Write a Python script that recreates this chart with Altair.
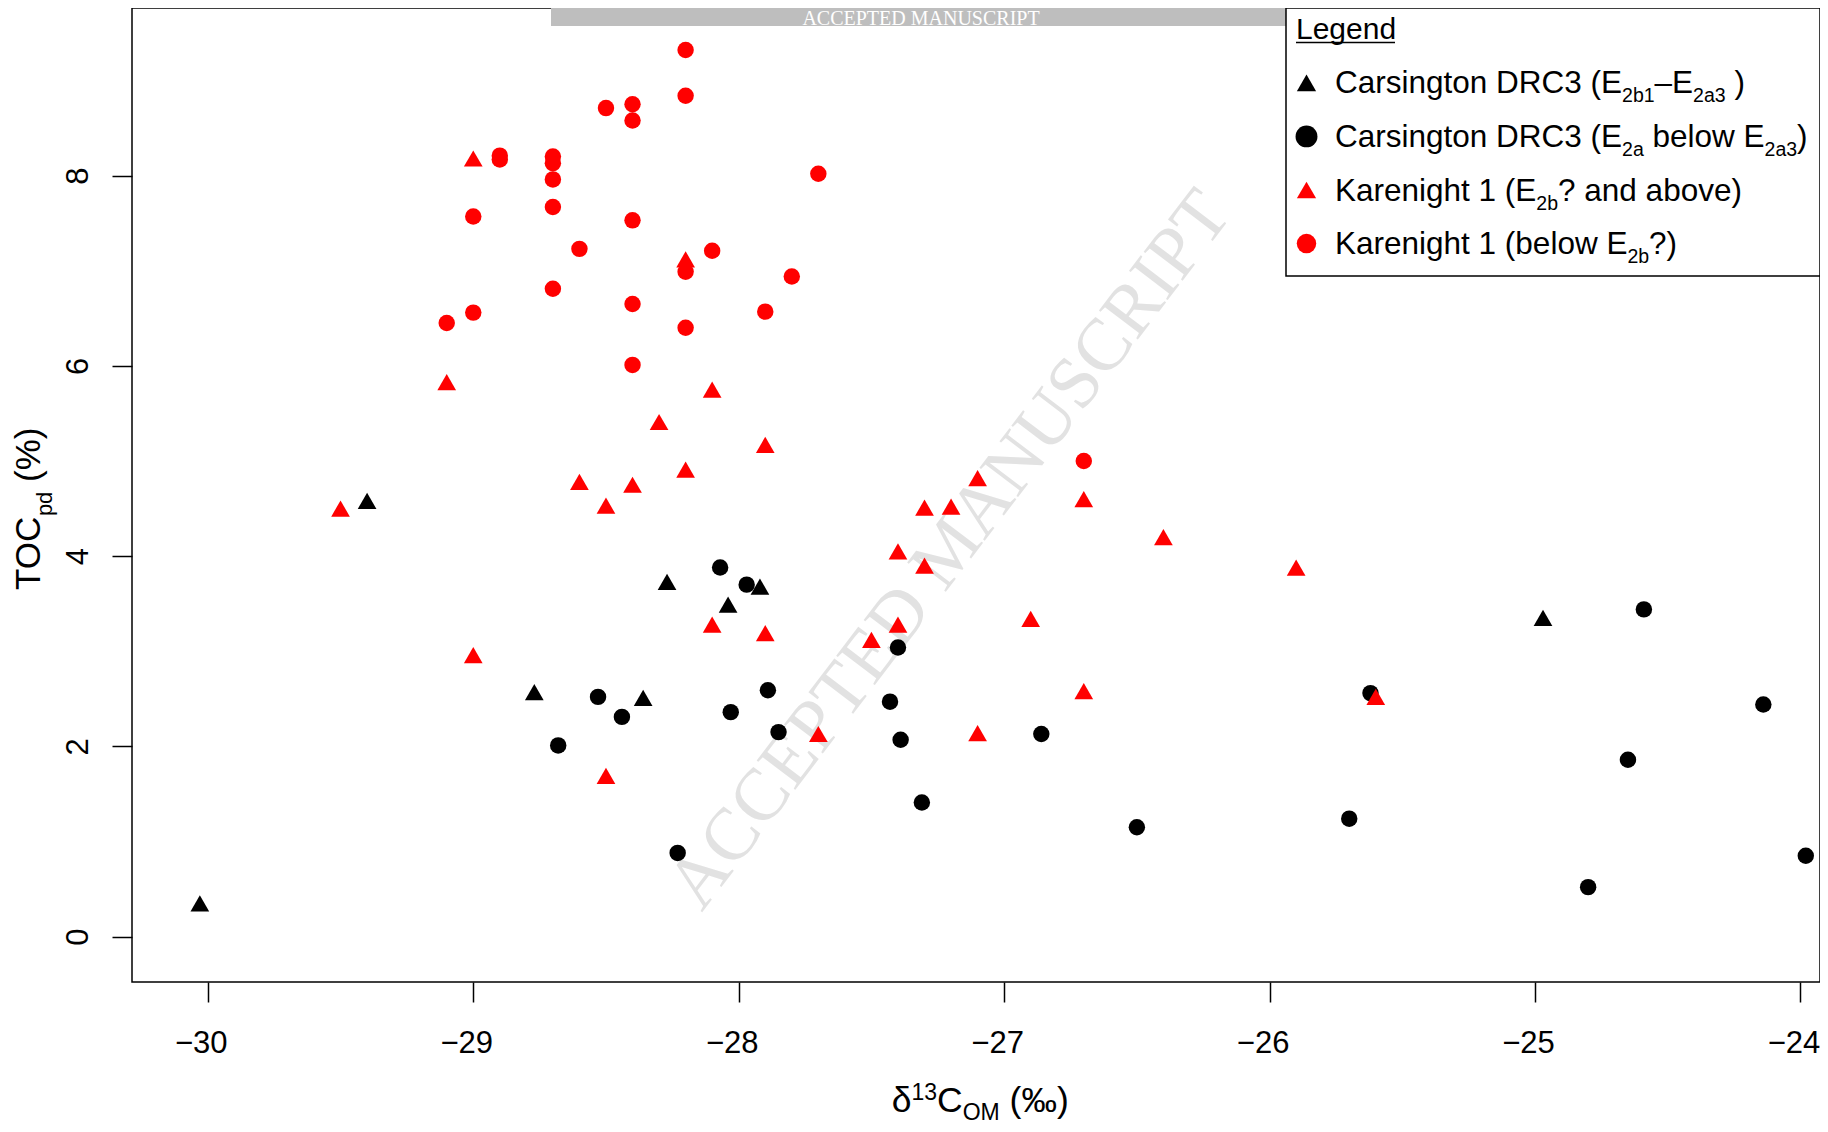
import altair as alt
import pandas as pd

# ---------------- data ----------------
groups = ["Carsington DRC3 (E2b1–E2a3)", "Carsington DRC3 (E2a below E2a3)",
          "Karenight 1 (E2b? and above)", "Karenight 1 (below E2b?)"]

blk_tri_x = [-30.03, -29.40, -28.77, -28.36, -28.27, -28.04, -27.92, -24.97]
blk_tri_y = [0.35, 4.58, 2.57, 2.51, 3.73, 3.49, 3.68, 3.35]

blk_cir_x = [-28.07, -27.97, -28.53, -28.44, -28.68, -28.03, -27.89, -27.85, -28.23, -27.40,
             -27.43, -27.39, -27.31, -26.86, -26.50, -25.70, -25.62, -24.59, -24.14, -24.65,
             -24.80, -23.98]
blk_cir_y = [3.88, 3.70, 2.52, 2.31, 2.01, 2.36, 2.59, 2.15, 0.88, 3.04,
             2.47, 2.07, 1.41, 2.13, 1.15, 1.24, 2.56, 3.44, 2.44, 1.86,
             0.52, 0.85]

red_tri_x = [-29.0, -28.2, -29.1, -28.1, -28.3, -27.9, -28.6, -28.2, -28.4, -28.5,
             -29.5, -27.1, -27.3, -27.2, -26.7, -26.4, -27.4, -27.3, -25.9, -28.1,
             -27.9, -27.4, -27.5, -26.9, -29.0, -26.7, -25.6, -27.7, -27.1, -28.5]
red_tri_y = [8.18, 7.12, 5.83, 5.75, 5.41, 5.17, 4.78, 4.91, 4.75, 4.53,
             4.50, 4.82, 4.51, 4.52, 4.60, 4.20, 4.05, 3.90, 3.88, 3.28,
             3.19, 3.28, 3.12, 3.34, 2.96, 2.58, 2.52, 2.13, 2.14, 1.69]

red_cir_x = [-28.2, -28.2, -28.5, -28.4, -28.4, -28.9, -28.9, -28.7, -28.7, -28.7,
             -27.7, -29.0, -28.7, -28.4, -28.6, -28.1, -28.2, -27.8, -28.7, -28.4,
             -27.9, -28.2, -29.0, -29.1, -28.4, -26.7]
red_cir_y = [9.32, 8.84, 8.71, 8.75, 8.58, 8.21, 8.17, 8.20, 8.13, 7.96,
             8.02, 7.57, 7.67, 7.53, 7.23, 7.21, 6.99, 6.94, 6.81, 6.65,
             6.57, 6.40, 6.56, 6.45, 6.01, 5.00]

x_ticks = [-30, -29, -28, -27, -26, -25, -24]
y_ticks = [0, 2, 4, 6, 8]

# ---------------- styling / layout ----------------
SANS = "Liberation Sans"
SERIF = "Liberation Serif"
RED = "#ff0000"
BLACK = "#000000"
OX, OY = 132, 8            # page position of the plot area's top-left corner
W, H = 1688, 974
X_DOMAIN = [-30.2856, -23.9265]
Y_DOMAIN = [-0.477, 9.762]


def px(page_x):
    return page_x - OX


def py(page_y):
    return page_y - OY


# draw order: black circles, black triangles, red triangles, red circles
frames = []
for xs, ys, shp, col, sz in [
    (blk_cir_x, blk_cir_y, "circle", BLACK, 270),
    (blk_tri_x, blk_tri_y, "triangle-up", BLACK, 350),
    (red_tri_x, red_tri_y, "triangle-up", RED, 350),
    (red_cir_x, red_cir_y, "circle", RED, 270),
]:
    frames.append(pd.DataFrame({"x": xs, "y": ys, "shp": shp, "col": col, "sz": sz}))
pts = pd.concat(frames, ignore_index=True)
pts["ord"] = range(len(pts))

points = alt.Chart(pts).mark_point(filled=True, opacity=1, strokeWidth=0).encode(
    x=alt.X("x:Q", scale=alt.Scale(domain=X_DOMAIN, nice=False, zero=False),
            axis=alt.Axis(values=x_ticks, format="d", title=None, grid=False, domain=False,
                          tickSize=20, tickWidth=1.5, tickColor=BLACK,
                          labelFont=SANS, labelFontSize=31, labelColor=BLACK,
                          labelPadding=50, labelBaseline="alphabetic", labelOffset=-7,
                          labelFlush=False, labelOverlap=False)),
    y=alt.Y("y:Q", scale=alt.Scale(domain=Y_DOMAIN, nice=False, zero=False),
            axis=alt.Axis(values=y_ticks, format="d", title=None, grid=False, domain=False,
                          tickSize=20, tickWidth=1.5, tickColor=BLACK,
                          labelFont=SANS, labelFontSize=31, labelColor=BLACK,
                          labelAngle=270, labelAlign="center", labelBaseline="alphabetic",
                          labelPadding=25, labelFlush=False, labelOverlap=False)),
    shape=alt.Shape("shp:N", scale=None),
    color=alt.Color("col:N", scale=None),
    size=alt.Size("sz:Q", scale=None),
    order=alt.Order("ord:Q"),
)

# ---------------- text helpers (Arial / Liberation Sans advance widths) ----------------
ADV = {' ': 278, '(': 333, ')': 333, '?': 556, '–': 556, '%': 889, '‰': 1000, 'δ': 556,
       'a': 556, 'b': 556, 'd': 556, 'e': 556, 'g': 556, 'h': 556, 'i': 222, 'k': 500,
       'l': 222, 'n': 556, 'o': 556, 'p': 556, 'r': 333, 's': 500, 't': 278, 'v': 500,
       'w': 722, 'A': 667, 'C': 722, 'D': 722, 'E': 667, 'K': 667, 'M': 833, 'O': 778,
       'R': 722, 'T': 611}


def tw(s, fs):
    return sum(ADV.get(c, 556) for c in s) * fs / 1000.0


dummy = pd.DataFrame({"a": [0]})


def text_layer(txt, x, y, fs, angle=0, color=BLACK, font=SANS, align="left",
               baseline="alphabetic"):
    return alt.Chart(dummy).mark_text(
        text=txt, fontSize=fs, angle=angle, align=align, baseline=baseline,
        font=font, color=color
    ).encode(x=alt.value(x), y=alt.value(y))


def split_lead(txt):
    stripped = txt.lstrip(" ")
    return txt[:len(txt) - len(stripped)], stripped


def hrow(segs, x0, base, fs, sfs, sub_dy, sup_dy=0):
    out = []
    x = x0
    for txt, kind in segs:
        f = fs if kind == "n" else sfs
        dy = 0 if kind == "n" else (sub_dy if kind == "sub" else -sup_dy)
        lead, body = split_lead(txt)
        x += tw(lead, f)
        out.append(text_layer(body, x, base + dy, f))
        x += tw(body, f)
    return out


def vrow(segs, bx, y0, fs, sfs, sub_dx):
    out = []
    y = y0
    for txt, kind in segs:
        f = fs if kind == "n" else sfs
        dx = 0 if kind == "n" else sub_dx
        lead, body = split_lead(txt)
        y -= tw(lead, f)
        out.append(text_layer(body, bx + dx, y, f, angle=270))
        y -= tw(body, f)
    return out


layers = []

# watermark
layers.append(text_layer("ACCEPTED MANUSCRIPT", px(950), py(550), 74, angle=307.25,
                         color="#e2e2e2", font=SERIF, align="center", baseline="middle"))
# banner at top
layers.append(alt.Chart(dummy).mark_rect(color="#bebebe").encode(
    x=alt.value(px(551)), x2=alt.value(px(1286)), y=alt.value(0), y2=alt.value(18)))
layers.append(text_layer("ACCEPTED MANUSCRIPT", px(921), 10.5, 20, color="white", font=SERIF,
                         align="center", baseline="middle"))

layers.append(points)

# legend box
layers.append(alt.Chart(dummy).mark_rect(fill="white", stroke=BLACK, strokeWidth=1.5).encode(
    x=alt.value(px(1286)), x2=alt.value(W), y=alt.value(0), y2=alt.value(py(276))))
layers.append(text_layer("Legend", px(1296), py(39.3), 30))
layers.append(alt.Chart(dummy).mark_rule(color=BLACK, strokeWidth=1.5).encode(
    x=alt.value(px(1296)), x2=alt.value(px(1395)), y=alt.value(py(42.5))))

leg_rows = [
    ([("Carsington DRC3 (E", "n"), ("2b1", "sub"), ("–E", "n"), ("2a3", "sub"), (" )", "n")],
     "triangle-up", BLACK, 370),
    ([("Carsington DRC3 (E", "n"), ("2a", "sub"), (" below E", "n"), ("2a3", "sub"), (")", "n")],
     "circle", BLACK, 480),
    ([("Karenight 1 (E", "n"), ("2b", "sub"), ("? and above)", "n")],
     "triangle-up", RED, 370),
    ([("Karenight 1 (below E", "n"), ("2b", "sub"), ("?)", "n")],
     "circle", RED, 380),
]
leg_base = [93.3, 146.9, 200.5, 254.1]   # page y of each row's baseline
for (segs, shp, col, sz), b in zip(leg_rows, leg_base):
    layers.append(alt.Chart(dummy).mark_point(filled=True, opacity=1, strokeWidth=0,
                                              shape=shp, size=sz, color=col).encode(
        x=alt.value(px(1306.5)), y=alt.value(py(b - 10.5))))
    layers += hrow(segs, px(1335), py(b), 31.5, 19.5, 9)

# axis titles
layers += hrow([("δ", "n"), ("13", "sup"), ("C", "n"), ("OM", "sub"), (" (‰)", "n")],
               px(891.7), py(1112), 35.5, 23, 8, 12)
layers += vrow([("TOC", "n"), ("pd", "sub"), (" (%)", "n")], px(40), py(590), 35, 22, 12)

chart = alt.layer(*layers).properties(
    width=W, height=H,
    autosize=alt.AutoSizeParams(type="none"),
    padding={"left": OX - 8, "top": 0, "right": 0, "bottom": 142},
).configure(
    background="white",
    view=alt.ViewConfig(stroke=BLACK, strokeWidth=1.5),
)

chart.save("out.html", embed_options={"renderer": "svg", "actions": False})
